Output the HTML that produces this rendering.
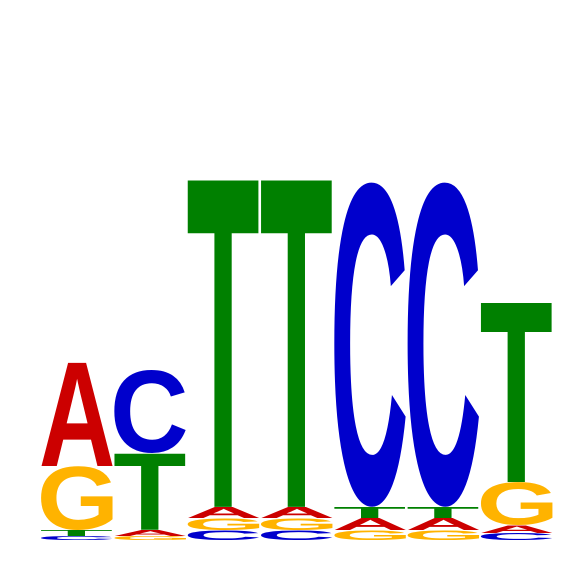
<!DOCTYPE html>
<html><head><meta charset="utf-8"><style>html,body{margin:0;padding:0;background:#fff;overflow:hidden;width:566px;height:566px}svg{display:block;overflow:hidden}</style></head>
<body>
<svg id="logo" width="566" height="566" viewBox="0 0 566 566" xmlns="http://www.w3.org/2000/svg"></svg>
<script>
// letters bottom-to-top per position, heights in bits
const positions = [1,2,3,4,5,6,7];
const letters = [
  ["C","T","G","A"],
  ["G","A","T","C"],
  ["C","G","A","T"],
  ["C","G","A","T"],
  ["G","A","T","C"],
  ["G","A","T","C"],
  ["C","A","G","T"]
];
const heights = [
  [0.022,0.033,0.356,0.583],
  [0.022,0.033,0.428,0.461],
  [0.056,0.067,0.061,1.845],
  [0.056,0.067,0.061,1.845],
  [0.056,0.067,0.061,1.806],
  [0.056,0.067,0.061,1.806],
  [0.039,0.044,0.239,1.012]
];
const colors = {A:"#cc0000",C:"#0000cc",G:"#ffb300",T:"#008000"};
const svg = document.getElementById('logo');
const NS = "http://www.w3.org/2000/svg";
const baseY = 540, pxPerBit = 180, x0 = 41, colW = 73.3, letterW = 72;
function yScale(v){ return baseY - v*pxPerBit; }
function xScale(i){ return x0 + i*colW; }
const FONT = 'bold 100px "Liberation Sans", Arial, sans-serif';
const ctx = document.createElement('canvas').getContext('2d');
ctx.font = FONT;
const metrics = {};
["A","C","G","T"].forEach(L=>{
  const m = ctx.measureText(L);
  metrics[L] = {l: -m.actualBoundingBoxLeft, r: m.actualBoundingBoxRight,
                a: m.actualBoundingBoxAscent, d: m.actualBoundingBoxDescent};
});
positions.forEach((p,i)=>{
  const g = document.createElementNS(NS,'g');
  
  
  let cum = 0;
  letters[i].forEach((L,j)=>{
    const h = heights[i][j];
    const bottom = yScale(cum);
    const top = yScale(cum + h);
    cum += h;
    const ph = bottom - top;
    if (ph <= 0) return;
    const m = metrics[L];
    const inkW = m.r - m.l, inkH = m.a + m.d;
    const sx = letterW / inkW, sy = ph / inkH;
    const t = document.createElementNS(NS,'text');
    
    
    t.setAttribute('x', 0);
    t.setAttribute('y', 0);
    t.setAttribute('font-family', '"Liberation Sans", Arial, sans-serif');
    t.setAttribute('font-weight', 'bold');
    t.setAttribute('font-size', 100);
    t.setAttribute('fill', colors[L]);
    t.setAttribute('transform', 'translate(' + xScale(i) + ',' + top + ') scale(' + sx + ',' + sy + ') translate(' + (-m.l) + ',' + m.a + ')');
    t.textContent = L;
    g.appendChild(t);
  });
  svg.appendChild(g);
});
</script>
</body></html>
